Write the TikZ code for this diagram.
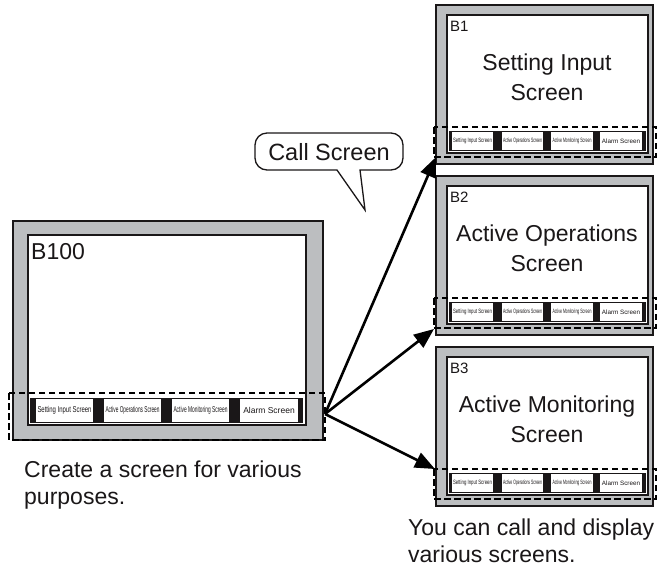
\documentclass[tikz,border=0pt]{standalone}
\usepackage{fontspec}
\setmainfont{Liberation Sans}
\usepackage{graphicx}
\usetikzlibrary{arrows.meta}
\definecolor{framegray}{HTML}{BCBEC0}
\definecolor{ink}{HTML}{1A1718}
\newcommand\squeeze[2]{\resizebox{#1}{\height}{#2}}
\begin{document}
\begin{tikzpicture}[x=1pt,y=-1pt,
  frame/.style={fill=framegray,draw=ink,line width=1.3pt},
  screen/.style={fill=white,draw=ink,line width=1.3pt},
  bar/.style={fill=ink,draw=none},
  btn/.style={fill=white,draw=none},
  sel/.style={draw=black,line width=2.8pt,dash pattern=on 6.5pt off 3.5pt},
  call/.style={-{Triangle[length=20pt,width=16pt]},line width=2.6pt},
  bigbtn/.style={inner sep=0,font=\fontsize{8.5}{8.5}\selectfont,text=ink},
  smallbtn/.style={inner sep=0,font=\fontsize{6.3}{6.3}\selectfont,text=ink},
  caption/.style={inner sep=0,anchor=north west,align=left,font=\fontsize{23}{27}\selectfont,text=ink},
  title/.style={inner sep=0,align=center,font=\fontsize{23}{30}\selectfont,text=ink},
  blabel/.style={inner sep=0,anchor=west,text=ink}
]
\useasboundingbox (0,0) rectangle (660,571);

% ---------- big screen B100 ----------
\draw[frame] (13,221) rectangle (323,440);
\draw[screen] (28,235) rectangle (306,425);
\node[blabel,font=\fontsize{23}{23}\selectfont] (b100) at (31,252) {B100};
\fill[bar] (30,398) rectangle (303,423);
\fill[btn] (36,399) rectangle (93,422);
\fill[btn] (104,399) rectangle (161,422);
\fill[btn] (172,399) rectangle (229,422);
\fill[btn] (240,399) rectangle (298,422);
\node[bigbtn] (bb1) at (64.5,410.5) {\squeeze{54pt}{Setting Input Screen}};
\node[bigbtn] (bb2) at (132.5,410.5) {\squeeze{54pt}{Active Operations Screen}};
\node[bigbtn] (bb3) at (200.5,410.5) {\squeeze{54pt}{Active Monitoring Screen}};
\node[bigbtn] (bb4) at (269,410.5) {Alarm Screen};
\draw[sel] (9,393) rectangle (325,440);
\coordinate (src) at (325,414);

% ---------- small screens ----------
\foreach \T/\lab/\ti in {5/B1/{Setting Input\\Screen},176/B2/{Active Operations\\Screen},347/B3/{Active Monitoring\\Screen}}{
  \draw[frame] (436,\T) rectangle (653,{\T+159});
  \draw[screen] (447,{\T+10}) rectangle (648,{\T+148});
  \node[blabel,font=\fontsize{15}{15}\selectfont] (lab\lab) at (450,{\T+21}) {\lab};
  \node[title] (title\lab) at (547,{\T+72}) {\ti};
  \fill[bar] (449,{\T+126}) rectangle (646,{\T+146});
  \fill[btn] (452,{\T+127}) rectangle (493,{\T+145});
  \fill[btn] (502,{\T+127}) rectangle (543,{\T+145});
  \fill[btn] (551,{\T+127}) rectangle (593,{\T+145});
  \fill[btn] (600,{\T+127}) rectangle (642,{\T+145});
  \node[smallbtn] (s1\lab) at (472.5,{\T+136}) {\squeeze{39pt}{Setting Input Screen}};
  \node[smallbtn] (s2\lab) at (522.5,{\T+136}) {\squeeze{39pt}{Active Operations Screen}};
  \node[smallbtn] (s3\lab) at (572,{\T+136}) {\squeeze{39pt}{Active Monitoring Screen}};
  \node[smallbtn] (s4\lab) at (621,{\T+136}) {Alarm Screen};
  \draw[sel] (434,{\T+122}) rectangle (656,{\T+152});
}
\coordinate (t1) at (436,157);
\coordinate (t2) at (434,329);
\coordinate (t3) at (435,469);

% ---------- arrows ----------
\draw[call] (src) -- (t1);
\draw[call] (src) -- (t2);
\draw[call] (src) -- (t3);

% ---------- callout ----------
\draw[fill=white,draw=ink,line width=1.3pt]
  (337,170) -- (365,210) -- (360,170) -- (391,170)
  arc[start angle=90,end angle=0,radius=12] -- (403,145)
  arc[start angle=0,end angle=-90,radius=12] -- (267,133)
  arc[start angle=-90,end angle=-180,radius=12] -- (255,158)
  arc[start angle=-180,end angle=-270,radius=12] -- cycle;
\node[inner sep=0,text=ink,font=\fontsize{23.5}{23.5}\selectfont] (callt) at (329,152) {Call Screen};

% ---------- captions ----------
\node[caption] (cap1) at (24,461) {Create a screen for various\\purposes.};
\node[caption] (cap2) at (408,519) {You can call and display\\various screens.};
\end{tikzpicture}
\end{document}
